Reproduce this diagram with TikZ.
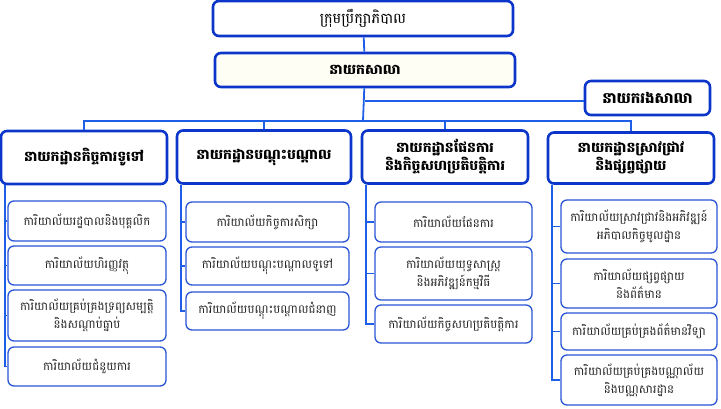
\documentclass[tikz,border=0pt]{standalone}
\usepackage{fontspec}
\newfontfamily\khmer[Script=Khmer]{Battambang}
\definecolor{boxblue}{HTML}{0B36C9}
\definecolor{subblue}{HTML}{2A55D6}
\definecolor{lineblue}{HTML}{1F5FE8}
\definecolor{cream}{HTML}{FFFEF4}
\begin{document}
\begin{tikzpicture}
  [x=1pt,y=-1pt,every node/.style={rectangle,rounded corners=6pt,draw=boxblue,fill=white,align=center,inner sep=0pt,font=\khmer}]
  \tikzstyle{head} = [line width=2.6pt,font=\khmer\bfseries\fontsize{14}{18}\selectfont]
  \tikzstyle{office} = [draw=subblue,line width=1.3pt,text=black!85,font=\khmer\fontsize{11.8}{18}\selectfont]
  \tikzstyle{link} = [draw=lineblue,line width=1.8pt]
  \useasboundingbox (0,0) rectangle (721,408);

  \node[head,font=\khmer\fontsize{14.5}{18}\selectfont,minimum width=300pt,minimum height=35pt] (board) at (363,18.5) {ក្រុមប្រឹក្សាភិបាល};
  \node[head,fill=cream,minimum width=300pt,minimum height=34pt] (director) at (365,70) {នាយកសាលា};
  \node[head,font=\khmer\bfseries\fontsize{15}{18}\selectfont,minimum width=125pt,minimum height=34pt] (deputy) at (647.5,98) {នាយករងសាលា};
  \coordinate (bus) at (363,121);
  \coordinate (side) at ([yshift=-3pt]deputy.west);

  \node[head,minimum width=166pt,minimum height=53pt] (d1) at (84,157.5) {នាយកដ្ឋានកិច្ចការទូទៅ};
  \node[head,minimum width=174pt,minimum height=53pt] (d2) at (264,157) {នាយកដ្ឋានបណ្តុះបណ្តាល};
  \node[head,minimum width=166pt,minimum height=53pt] (d3) at (445,157) {នាយកដ្ឋានផែនការ\\និងកិច្ចសហប្រតិបត្តិការ};
  \node[head,minimum width=166pt,minimum height=51pt] (d4) at (631,158) {នាយកដ្ឋានស្រាវជ្រាវ\\និងផ្សព្វផ្សាយ};

  \node[office,minimum width=158pt,minimum height=40pt] (d1a) at (87,221) {ការិយាល័យរដ្ឋបាលនិងបុគ្គលិក};
  \node[office,minimum width=158pt,minimum height=39pt] (d1b) at (87,265.5) {ការិយាល័យហិរញ្ញវត្ថុ};
  \node[office,minimum width=158pt,minimum height=51pt] (d1c) at (87,315.5) {ការិយាល័យគ្រប់គ្រងទ្រព្យសម្បត្តិ\\និងសណ្ដាប់ធ្នាប់};
  \node[office,minimum width=158pt,minimum height=39pt] (d1d) at (87,366.5) {ការិយាល័យជំនួយការ};

  \node[office,minimum width=163pt,minimum height=40pt] (d2a) at (267.5,222) {ការិយាល័យកិច្ចការសិក្សា};
  \node[office,minimum width=163pt,minimum height=38pt] (d2b) at (267.5,266) {ការិយាល័យបណ្តុះបណ្តាលទូទៅ};
  \node[office,minimum width=163pt,minimum height=38pt] (d2c) at (267.5,311) {ការិយាល័យបណ្តុះបណ្តាលជំនាញ};

  \node[office,minimum width=157pt,minimum height=40pt] (d3a) at (453.5,222) {ការិយាល័យផែនការ};
  \node[office,minimum width=157pt,minimum height=53pt] (d3b) at (453.5,273.5) {ការិយាល័យយុទ្ធសាស្ត្រ\\និងអភិវឌ្ឍន៍កម្មវិធី};
  \node[office,minimum width=157pt,minimum height=38pt] (d3c) at (453.5,324) {ការិយាល័យកិច្ចសហប្រតិបត្តិការ};

  \node[office,minimum width=156pt,minimum height=53pt] (d4a) at (639,226.5) {ការិយាល័យស្រាវជ្រាវនិងអភិវឌ្ឍន៍\\អភិបាលកិច្ចមូលដ្ឋាន};
  \node[office,minimum width=156pt,minimum height=49pt] (d4b) at (639,283.5) {ការិយាល័យផ្សព្វផ្សាយ\\និងព័ត៌មាន};
  \node[office,minimum width=156pt,minimum height=37pt] (d4c) at (639,331.5) {ការិយាល័យគ្រប់គ្រងព័ត៌មានវិទ្យា};
  \node[office,minimum width=156pt,minimum height=50pt] (d4d) at (639,380) {ការិយាល័យគ្រប់គ្រងបណ្ណាល័យ\\និងបណ្ណសារដ្ឋាន};

  \draw[link] (board) -- (director);
  \draw[link] (director) -- (bus);
  \draw[link] (side) -- (side -| director);

\foreach \dest in {d1,d2,d3,d4}
   \draw[link] (bus) -| (\dest);

\foreach \source /\dest in {d1/d1a,d1/d1b,d1/d1c,d1/d1d,d2/d2a,d2/d2b,d2/d2c,d3/d3a,d3/d3b,d3/d3c,d4/d4a,d4/d4b,d4/d4c,d4/d4d}
   \draw[link] ([xshift=5pt]\source.south west) |- (\dest);

\end{tikzpicture}
\end{document}
